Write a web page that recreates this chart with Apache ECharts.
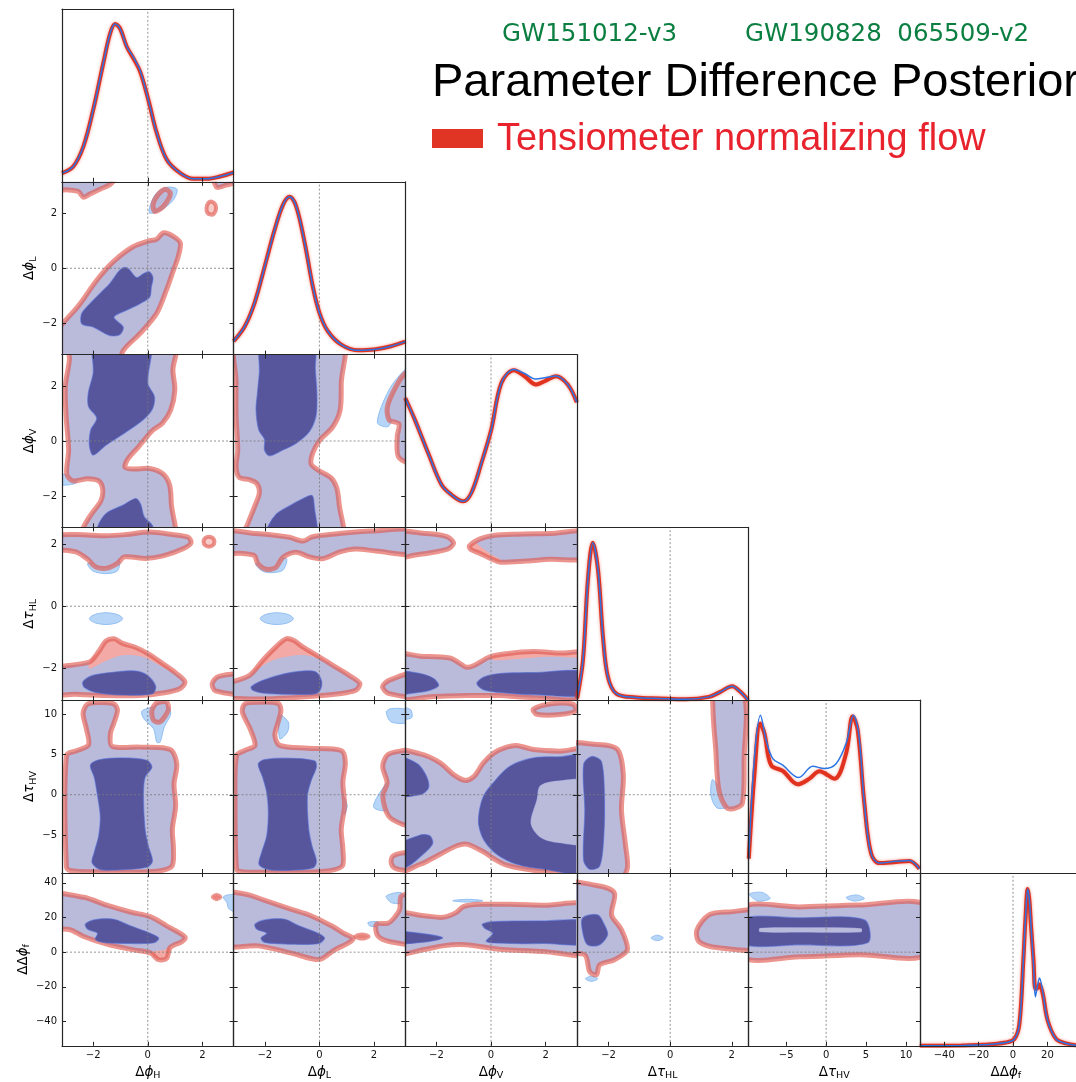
<!DOCTYPE html>
<html>
<head>
<meta charset="utf-8">
<script src="https://cdn.jsdelivr.net/npm/echarts@6/dist/echarts.min.js"></script>
<style>
  html, body { margin: 0; padding: 0; background: #fff; }
  #main { width: 1076px; height: 1082px; }
</style>
</head>
<body>
<div id="main"></div>
<script>
// ---------------- parameters ----------------
const ORDER = ['phiH', 'phiL', 'phiV', 'tauHL', 'tauHV', 'dphif'];
const RANGE_phi = [-3.1416, 3.1416];
const RANGE_tauHL = [-3.03, 2.54];
const RANGE_tauHV = [-9.72, 11.75];
const RANGE_dphif = [-54.1, 45.7];
const TICKS_phi = [-2, 0, 2];
const TICKS_tauHL = [-2, 0, 2];
const TICKS_tauHV = [-5, 0, 5, 10];
const TICKS_dphif = [-40, -20, 0, 20, 40];

// ---------------- 1D marginals (peak-normalised) ----------------
const pdf_phiH_x = [-3.14, -2.73, -2.36, -2.0, -1.63, -1.38, -1.20, -1.02, -0.77, -0.53, -0.28, 0.02, 0.33, 0.70, 1.19, 1.67, 2.17, 2.65, 3.14];
const pdf_phiH_red = [0.055, 0.097, 0.223, 0.456, 0.751, 0.94, 1.0, 0.973, 0.856, 0.783, 0.698, 0.519, 0.308, 0.139, 0.055, 0.019, 0.019, 0.034, 0.059];
const pdf_phiH_blue = [0.055, 0.097, 0.223, 0.456, 0.751, 0.94, 1.0, 0.973, 0.856, 0.79, 0.705, 0.519, 0.308, 0.139, 0.055, 0.019, 0.019, 0.034, 0.059];

const pdf_phiL_x = [-3.14, -2.73, -2.37, -2.0, -1.64, -1.33, -1.09, -0.85, -0.54, -0.24, 0.01, 0.31, 0.80, 1.40, 2.01, 2.62, 3.14];
const pdf_phiL_red = [0.085, 0.18, 0.33, 0.56, 0.79, 0.95, 1.0, 0.94, 0.71, 0.43, 0.26, 0.148, 0.063, 0.027, 0.032, 0.053, 0.082];
const pdf_phiL_blue = [0.085, 0.18, 0.33, 0.56, 0.79, 0.95, 1.0, 0.94, 0.71, 0.43, 0.26, 0.148, 0.063, 0.027, 0.032, 0.053, 0.082];

const pdf_phiV_x = [-3.14, -2.79, -2.30, -1.81, -1.45, -1.02, -0.72, -0.35, 0.01, 0.38, 0.84, 1.23, 1.65, 1.96, 2.38, 2.81, 3.14];
const pdf_phiV_red = [0.82, 0.683, 0.471, 0.27, 0.207, 0.165, 0.218, 0.408, 0.62, 0.915, 0.996, 0.958, 0.905, 0.926, 0.958, 0.905, 0.793];
const pdf_phiV_blue = [0.82, 0.683, 0.471, 0.27, 0.207, 0.165, 0.218, 0.408, 0.62, 0.915, 1.0, 0.975, 0.94, 0.948, 0.96, 0.905, 0.793];

const pdf_tauHL_x = [-3.02, -2.83, -2.67, -2.51, -2.34, -2.18, -2.02, -1.75, -1.11, -0.35, 0.51, 1.26, 1.63, 2.01, 2.28, 2.53];
const pdf_tauHL_red = [0.011, 0.254, 0.761, 0.998, 0.824, 0.40, 0.148, 0.042, 0.017, 0.011, 0.006, 0.021, 0.053, 0.089, 0.053, 0.0];
const pdf_tauHL_blue = [0.011, 0.254, 0.761, 0.998, 0.824, 0.40, 0.148, 0.042, 0.017, 0.011, 0.006, 0.021, 0.053, 0.089, 0.053, 0.0];

const pdf_tauHV_x = [-9.67, -8.96, -8.25, -7.71, -6.88, -5.42, -3.54, -2.08, -0.83, 1.04, 2.5, 3.33, 3.96, 4.79, 5.63, 6.67, 8.75, 10.42, 11.67];
const pdf_tauHV_red = [0.091, 0.63, 0.947, 0.884, 0.683, 0.647, 0.562, 0.598, 0.645, 0.598, 0.757, 0.994, 0.905, 0.44, 0.123, 0.063, 0.070, 0.076, 0.027];
const pdf_tauHV_xb = [-9.67, -8.96, -8.21, -7.5, -6.67, -5.42, -3.42, -1.67, -0.21, 1.25, 2.5, 3.42, 4.08, 4.79, 5.63, 6.67, 8.75, 10.42, 11.67];
const pdf_tauHV_blue = [0.091, 0.736, 1.0, 0.841, 0.725, 0.683, 0.605, 0.676, 0.662, 0.693, 0.82, 1.0, 0.884, 0.44, 0.123, 0.063, 0.074, 0.080, 0.027];

const pdf_dphif_x = [-54.2, -30, -17.7, -4.1, 0.8, 3.7, 6.0, 7.2, 8.55, 9.5, 10.5, 11.9, 13.0, 14.2, 15.4, 17.3, 20.2, 25.1, 30.9, 36.3, 46];
const pdf_dphif_red = [0, 0.002, 0.006, 0.021, 0.043, 0.138, 0.542, 0.797, 0.993, 0.925, 0.755, 0.542, 0.361, 0.365, 0.389, 0.33, 0.159, 0.043, 0.015, 0.004, 0];
const pdf_dphif_blue = [0, 0.002, 0.006, 0.021, 0.043, 0.138, 0.542, 0.797, 0.993, 0.925, 0.755, 0.52, 0.31, 0.38, 0.43, 0.34, 0.159, 0.043, 0.015, 0.004, 0];

// ---------------- 2D contours (data coordinates) ----------------
// outer = 95% region, inner = 68% region; blue/pink = where only one sample covers
// Δϕ_L vs Δϕ_H
const LH_outer = [
  [[-3.6, -2.69], [-2.48, -1.29], [-1.87, -0.44], [-1.27, 0.23], [-0.54, 0.78], [0.07, 1.0], [0.32, 1.05], [0.58, 1.29], [0.92, 1.17], [1.19, 0.92], [1.11, 0.41], [0.92, -0.13], [0.68, -0.80], [0.32, -1.65], [-0.29, -2.38], [-0.9, -3.0], [-1.2, -3.8], [-3.6, -3.8]],
  [[-3.6, 3.8], [-0.9, 3.8], [-1.33, 3.09], [-1.75, 2.87], [-2.12, 2.70], [-2.36, 2.58], [-2.54, 2.79], [-2.97, 2.85], [-3.6, 2.85]],
  [[0.19, 2.30], [0.32, 2.60], [0.62, 2.87], [0.83, 2.72], [0.58, 2.26], [0.26, 2.06]],
  [[2.4, 3.8], [2.51, 2.95], [2.87, 3.02], [3.2, 3.1], [3.6, 3.1], [3.6, 3.8]]
];
const LH_inner = [
  [[-0.90, 0.02], [-0.72, -0.01], [-0.41, -0.34], [-0.15, -0.19], [0.05, -0.13], [0.19, -0.34], [0.13, -0.68], [0.07, -1.05], [-0.29, -1.29], [-0.78, -1.53], [-1.24, -1.78], [-0.90, -2.14], [-1.02, -2.41], [-1.39, -2.45], [-2.0, -2.14], [-2.42, -2.02], [-2.42, -1.65], [-2.12, -1.29], [-1.75, -0.92], [-1.39, -0.56], [-1.08, -0.13]]
];
const LH_blue = [[[0.05, 2.02], [0.26, 2.66], [0.68, 2.94], [1.07, 2.87], [0.92, 2.46], [0.44, 2.09]]];
const LH_rings = [[[2.15, 2.2], [2.22, 2.38], [2.34, 2.42], [2.47, 2.32], [2.5, 2.15], [2.42, 1.98], [2.3, 1.95], [2.18, 2.02]]];

// Δϕ_V vs Δϕ_H
const VH_outer = [
  [[-2.87, 3.8], [1.02, 3.8], [0.92, 2.59], [0.99, 1.86], [0.84, 1.13], [0.54, 0.65], [0.17, 0.38], [-0.34, -0.21], [-0.74, -0.67], [-0.83, -0.96], [-0.50, -1.02], [0.07, -1.0], [0.56, -1.20], [0.80, -1.61], [0.86, -2.27], [0.92, -3.8], [-2.6, -3.8], [-2.32, -3.07], [-2.04, -2.62], [-1.72, -2.18], [-1.65, -1.76], [-1.80, -1.45], [-2.20, -1.37], [-2.75, -1.45], [-2.97, -1.20], [-2.90, -0.33], [-2.99, 0.89], [-3.02, 1.98], [-2.87, 2.96]]
];
const VH_inner = [
  [[-1.95, 3.8], [0.07, 3.8], [0.0, 2.10], [0.24, 1.62], [0.17, 1.16], [-0.17, 0.77], [-0.86, 0.28], [-1.53, -0.15], [-2.0, -0.51], [-2.14, -0.15], [-2.09, 0.40], [-1.87, 0.83], [-2.17, 1.25], [-2.18, 1.74], [-2.0, 2.47]],
  [[-1.95, -3.8], [-1.84, -3.13], [-1.53, -2.64], [-0.92, -2.34], [-0.44, -2.09], [-0.26, -2.30], [-0.13, -2.76], [0.17, -3.07], [0.3, -3.8]]
];
const VH_blue = [[[-3.6, -1.2], [-2.9, -1.25], [-2.6, -1.5], [-2.95, -1.6], [-3.6, -1.55]]];

// Δϕ_V vs Δϕ_L
const VL_outer = [
  [[-2.99, 3.8], [0.82, 3.8], [0.80, 2.10], [0.76, 1.13], [0.48, 0.50], [0.02, 0.04], [-0.25, -0.45], [-0.30, -0.84], [-0.01, -1.08], [0.42, -1.33], [0.63, -1.69], [0.72, -2.27], [0.80, -3.8], [-2.9, -3.8], [-2.62, -3.0], [-2.38, -2.40], [-2.20, -1.89], [-2.29, -1.55], [-2.59, -1.40], [-2.93, -1.33], [-3.05, -0.94], [-2.99, -0.33], [-3.05, 0.89], [-3.05, 2.10]],
  [[3.6, 2.7], [3.13, 2.45], [2.79, 1.96], [2.49, 1.25], [2.55, 0.77], [2.91, 0.62], [2.85, 0.16], [2.91, -0.6], [3.6, -0.8]]
];
const VL_inner = [
  [[-2.10, 3.8], [-0.23, 3.8], [-0.15, 2.59], [-0.09, 1.62], [-0.13, 0.89], [-0.37, 0.34], [-0.86, -0.09], [-1.34, -0.33], [-1.83, -0.54], [-2.01, -0.33], [-2.01, 0.06], [-2.22, 0.40], [-2.32, 1.13], [-2.27, 1.74], [-2.20, 2.47]],
  [[-2.05, -3.8], [-1.89, -3.13], [-1.56, -2.64], [-1.08, -2.35], [-0.61, -2.10], [-0.27, -1.98], [-0.19, -2.34], [-0.15, -3.8]]
];
const VL_blue = [[[3.13, 2.59], [2.55, 1.86], [2.12, 0.67], [2.55, 0.55], [3.13, 2.35]]];

// Δτ_HL vs Δϕ_H
const THL_H_outer = [
  [[-3.6, 2.24], [-2.63, 2.31], [-1.53, 2.27], [-0.80, 2.31], [0.05, 2.39], [0.90, 2.31], [1.48, 2.22], [1.58, 2.04], [1.29, 1.85], [0.56, 1.62], [-0.07, 1.54], [-0.86, 1.59], [-1.11, 1.38], [-1.53, 1.22], [-1.92, 1.27], [-2.20, 1.51], [-2.63, 1.75], [-3.6, 1.89]],
  [[-3.6, -2.06], [-2.14, -1.80], [-1.78, -1.44], [-1.53, -1.12], [-1.23, -1.05], [-0.92, -1.20], [-0.44, -1.33], [0.05, -1.55], [0.54, -1.85], [1.02, -2.15], [1.36, -2.44], [1.17, -2.66], [0.54, -2.80], [-0.32, -2.88], [-1.53, -2.88], [-2.63, -2.84], [-3.6, -2.80]],
  [[2.36, -2.49], [2.60, -2.26], [3.6, -2.23], [3.6, -2.80], [2.48, -2.73]]
];
const THL_H_inner = [
  [[-2.38, -2.44], [-2.02, -2.23], [-1.17, -2.12], [-0.44, -2.09], [-0.01, -2.23], [0.29, -2.58], [0.17, -2.82], [-0.92, -2.86], [-1.90, -2.78], [-2.32, -2.62]]
];
const THL_H_blue = [
  [[-2.20, 1.38], [-2.02, 1.14], [-1.53, 1.05], [-1.11, 1.14], [-1.05, 1.48], [-1.53, 1.38]],
  [[-2.14, -0.40], [-1.95, -0.27], [-1.53, -0.21], [-1.11, -0.27], [-0.92, -0.40], [-1.11, -0.53], [-1.53, -0.59], [-1.95, -0.53]]
];
const THL_H_pink = [
  [[-2.14, -1.80], [-1.78, -1.44], [-1.53, -1.12], [-1.23, -1.05], [-0.92, -1.20], [-0.44, -1.33], [0.05, -1.55], [0.54, -1.85], [1.02, -2.15], [0.90, -2.12], [0.54, -1.96], [-0.19, -1.63], [-0.92, -1.58], [-1.53, -1.76], [-2.14, -2.01]]
];
const THL_H_rings = [[[2.04, 2.08], [2.1, 2.2], [2.24, 2.24], [2.38, 2.2], [2.44, 2.08], [2.38, 1.96], [2.24, 1.92], [2.1, 1.96]]];

// Δτ_HL vs Δϕ_L
const THL_L_outer = [
  [[-3.6, 2.40], [-2.32, 2.34], [-1.10, 2.22], [-0.61, 2.10], [-0.25, 2.24], [0.72, 2.34], [1.94, 2.42], [3.6, 2.43], [3.6, 1.70], [2.06, 1.78], [1.33, 1.84], [0.72, 1.74], [0.12, 1.53], [-0.37, 1.59], [-0.86, 1.74], [-1.34, 1.57], [-1.59, 1.25], [-1.95, 1.19], [-2.26, 1.38], [-2.38, 1.63], [-2.80, 1.70], [-3.6, 1.75]],
  [[-3.6, -2.6], [-2.56, -2.23], [-2.07, -1.74], [-1.59, -1.31], [-1.22, -1.05], [-0.95, -1.10], [-0.61, -1.31], [-0.01, -1.63], [0.48, -1.90], [1.09, -2.23], [1.48, -2.49], [1.33, -2.71], [0.72, -2.82], [-0.49, -2.92], [-1.71, -2.98], [-2.80, -2.98], [-3.6, -2.92]],
  [[2.31, -2.60], [2.55, -2.39], [3.6, -2.15], [3.6, -2.87], [2.55, -2.82]]
];
const THL_L_inner = [
  [[-2.50, -2.60], [-2.07, -2.39], [-1.34, -2.19], [-0.61, -2.09], [-0.13, -2.12], [0.08, -2.41], [0.05, -2.66], [-0.13, -2.82], [-1.10, -2.84], [-2.07, -2.80], [-2.44, -2.71]]
];
const THL_L_blue = [
  [[-2.32, 1.38], [-2.14, 1.16], [-1.83, 1.08], [-1.34, 1.16], [-1.22, 1.54]],
  [[-2.17, -0.40], [-1.98, -0.27], [-1.56, -0.21], [-1.14, -0.27], [-0.95, -0.40], [-1.14, -0.53], [-1.56, -0.59], [-1.98, -0.53]]
];
const THL_L_pink = [
  [[-2.56, -2.23], [-2.07, -1.74], [-1.59, -1.31], [-1.22, -1.05], [-0.95, -1.10], [-0.61, -1.31], [-0.01, -1.63], [0.48, -1.90], [1.09, -2.23], [0.72, -2.01], [0.12, -1.74], [-0.49, -1.58], [-1.10, -1.61], [-1.71, -1.74], [-2.32, -2.06]]
];

// Δτ_HL vs Δϕ_V
const THL_V_outer = [
  [[-3.6, 2.37], [-2.35, 2.34], [-1.62, 2.24], [-1.37, 2.04], [-1.56, 1.85], [-2.10, 1.74], [-2.71, 1.66], [-3.6, 1.57]],
  [[-0.79, 1.94], [-0.40, 2.17], [0.09, 2.28], [0.94, 2.32], [2.15, 2.34], [3.6, 2.38], [3.6, 1.57], [2.15, 1.51], [1.30, 1.46], [0.33, 1.42], [0.02, 1.52], [-0.40, 1.70], [-0.74, 1.83]],
  [[-3.6, -1.57], [-2.59, -1.61], [-1.50, -1.67], [-1.13, -1.85], [-0.89, -1.97], [-0.62, -1.91], [-0.04, -1.63], [0.57, -1.53], [1.55, -1.46], [2.52, -1.51], [3.6, -1.55], [3.6, -2.90], [1.55, -2.95], [0.33, -2.88], [-0.89, -2.88], [-2.10, -2.91], [-3.6, -2.94]]
];
const THL_V_inner = [
  [[-3.6, -2.12], [-2.59, -2.17], [-2.10, -2.33], [-1.92, -2.56], [-2.23, -2.71], [-2.83, -2.80], [-3.6, -2.82]],
  [[-0.52, -2.49], [-0.26, -2.28], [0.33, -2.17], [1.55, -2.14], [3.6, -2.13], [3.6, -2.84], [1.55, -2.85], [0.33, -2.78], [-0.28, -2.69]]
];
const THL_V_pink = [
  [[-0.79, 1.94], [-0.74, 1.83], [-0.40, 1.70], [0.02, 1.52], [0.33, 1.42], [0.33, 1.51], [-0.04, 1.70], [-0.46, 1.97], [-0.58, 2.05]],
  [[-0.04, -1.63], [0.57, -1.53], [1.55, -1.46], [2.52, -1.51], [3.6, -1.55], [3.6, -1.66], [2.15, -1.63], [0.94, -1.70], [0.09, -1.74]]
];

// Δτ_HV vs Δϕ_H
const THV_H_outer = [
  [[-2.98, -9.0], [-2.98, 4.88], [-2.59, 5.5], [-2.17, 6.21], [-2.25, 8.21], [-2.37, 10.08], [-2.23, 11.2], [-1.86, 11.45], [-1.25, 11.3], [-1.11, 10.5], [-1.25, 8.83], [-1.37, 7.58], [-1.31, 6.04], [-0.28, 5.92], [0.82, 5.63], [1.06, 3.83], [0.96, 1.33], [1.02, -1.38], [0.90, -4.29], [0.94, -6.79], [0.88, -8.88], [0.33, -9.5], [-0.89, -9.58], [-2.10, -9.58], [-2.8, -9.45]],
  [[0.15, 10.5], [0.33, 11.4], [0.69, 11.5], [0.75, 10.5], [0.45, 9.04], [0.21, 9.25]]
];
const THV_H_inner = [
  [[-2.10, 3.71], [-1.74, 4.38], [-0.89, 4.58], [-0.04, 4.29], [0.15, 3.42], [-0.10, 2.17], [-0.16, -0.13], [-0.10, -4.29], [0.02, -6.38], [0.17, -8.25], [-0.04, -9.0], [-0.89, -9.29], [-1.74, -9.29], [-2.04, -8.46], [-1.96, -7.13], [-1.80, -5.13], [-1.74, -2.63], [-1.86, 0.29], [-1.96, 2.17]]
];
const THV_H_blue = [[[-0.22, 10.38], [0.21, 10.92], [0.69, 11.13], [0.84, 10.08], [0.60, 8.42], [0.45, 6.54], [0.33, 6.54], [0.21, 8.21], [-0.13, 9.38]]];

// Δτ_HV vs Δϕ_L
const THV_L_outer = [
  [[-3.03, -9.3], [-3.09, -0.13], [-3.03, 4.88], [-2.73, 5.5], [-2.36, 6.13], [-2.54, 8.21], [-2.82, 10.29], [-2.73, 11.3], [-2.24, 11.5], [-1.51, 11.35], [-1.41, 10.5], [-1.51, 9.04], [-1.63, 7.38], [-1.45, 6.13], [-0.41, 5.79], [0.80, 5.5], [0.95, 4.04], [0.86, 1.54], [0.92, -1.38], [0.80, -4.29], [0.86, -6.79], [0.83, -8.88], [0.19, -9.5], [-1.02, -9.63], [-2.24, -9.63], [-2.85, -9.55]],
  [[3.6, 5.71], [3.09, 5.5], [2.51, 5.0], [2.32, 3.54], [2.48, 1.46], [2.32, -0.13], [2.53, -2.63], [3.05, -3.67], [3.6, -3.88]],
  [[3.6, -7.21], [3.09, -7.21], [2.69, -7.63], [2.63, -8.46], [2.75, -9.08], [3.09, -9.38], [3.6, -9.38]]
];
const THV_L_inner = [
  [[-2.24, 3.83], [-2.0, 4.38], [-1.02, 4.54], [-0.17, 4.21], [-0.11, 3.42], [-0.29, 1.88], [-0.44, -0.13], [-0.39, -4.29], [-0.27, -6.38], [-0.11, -8.25], [-0.23, -9.08], [-1.02, -9.38], [-1.87, -9.29], [-2.21, -8.67], [-2.12, -7.21], [-1.93, -5.13], [-1.87, -2.21], [-1.93, 0.29], [-2.09, 2.29]]
];
const THV_L_blue = [
  [[-1.45, 9.88], [-1.14, 9.04], [-1.17, 7.79], [-1.45, 6.96]],
  [[0.86, -0.13], [1.02, -1.38], [0.90, -2.42]],
  [[2.63, 1.96], [2.14, -0.13], [1.99, -1.58], [2.45, -2.0], [2.63, -1.38]],
  [[2.45, 10.29], [2.63, 10.71], [3.24, 10.5], [3.30, 9.04], [2.63, 9.04]]
];

// Δτ_HV vs Δϕ_V
const THV_V_outer = [
  [[-3.6, 5.29], [-2.59, 5.08], [-1.86, 3.96], [-1.37, 2.5], [-0.95, 1.79], [-0.62, 2.29], [-0.28, 3.96], [0.11, 5.21], [0.57, 5.92], [0.94, 6.13], [1.55, 5.63], [2.52, 5.42], [3.6, 5.42], [3.6, -9.88], [2.52, -9.63], [1.55, -9.38], [0.57, -8.75], [0.09, -7.92], [-0.28, -7.08], [-0.89, -6.13], [-1.25, -6.33], [-1.86, -7.38], [-2.59, -8.63], [-3.6, -9.58]],
  [[1.55, 10.63], [2.15, 11.29], [3.0, 11.25], [3.10, 10.42], [2.52, 9.96], [1.67, 10.0]]
];
const THV_V_inner = [
  [[-3.6, 4.79], [-2.71, 3.88], [-2.35, 2.21], [-2.29, 0.83], [-2.59, 0], [-3.6, 0]],
  [[-3.6, -6.67], [-2.59, -5.0], [-2.23, -5.13], [-2.14, -6.13], [-2.59, -7.71], [-3.08, -8.96], [-3.6, -9.17]],
  [[-0.43, -2.08], [-0.28, -0.21], [0.02, 1.25], [0.69, 3.54], [1.55, 4.58], [2.52, 4.71], [3.6, 4.71], [3.6, -9.46], [1.91, -9.21], [0.94, -8.63], [0.21, -7.38], [-0.26, -5.63], [-0.45, -3.75]]
];
const THV_V_holes = [[[3.6, 1.54], [2.40, 1.75], [1.79, 1.13], [1.67, -0.63], [1.45, -3.54], [1.79, -5.29], [2.40, -5.96], [3.6, -5.88]]];
const THV_V_blue = [[[-3.6, 10.9], [-2.96, 10.63], [-2.90, 9.58], [-3.20, 9.38], [-3.6, 9.5]]];

// Δτ_HV vs Δτ_HL
const THV_T_outer = [
  [[-3.5, 5.88], [-2.35, 6.25], [-1.71, 5.63], [-1.52, 2.5], [-1.58, -1.88], [-1.45, -6.25], [-1.39, -9.13], [-1.65, -10.6], [-3.5, -10.6]],
  [[1.45, 12.5], [2.38, 12.5], [2.40, 4.38], [2.35, -1.0], [2.1, -1.7], [1.84, -1.63], [1.58, 0.63], [1.48, 5.63], [1.39, 10.6]]
];
const THV_T_inner = [[[-2.81, 3.75], [-2.55, 4.75], [-2.23, 4.13], [-2.13, -0.63], [-2.16, -5.63], [-2.29, -8.88], [-2.61, -9.25], [-2.81, -8.13], [-2.77, -1.88]]];
const THV_T_blue = [[[1.32, 0], [1.52, -1.63], [1.90, -1.38], [1.39, 1.88]]];

// ΔΔϕ_f vs Δϕ_H
const F_H_outer = [
  [[-3.6, 32.8], [-2.35, 31.7], [-1.50, 27.1], [-0.64, 23.2], [0.09, 20.5], [0.69, 15.2], [1.18, 10.9], [1.37, 8.4], [1.25, 6.1], [0.82, 2.7], [0.69, -3.6], [0.39, -4.4], [0.11, -0.6], [-0.52, 1.3], [-1.50, 4.6], [-2.35, 9.0], [-2.83, 12.9], [-3.6, 14.8]]
];
const F_H_inner = [[[-2.29, 16.1], [-1.98, 18.6], [-1.25, 19.0], [-0.64, 15.2], [0.09, 10.9], [0.40, 8.1], [0.23, 5.4], [-0.64, 5.0], [-1.62, 5.6], [-1.92, 7.5], [-1.84, 10.9], [-2.20, 13.2]]];
const F_H_pink = [[[0.82, 2.7], [0.69, -3.6], [0.39, -4.4], [0.11, -0.6], [0.3, 0.8], [0.6, 1.3]]];
const F_H_blue = [[[2.76, 31.8], [3.0, 33.2], [3.6, 33], [3.6, 21.3], [2.98, 24.9], [2.89, 28.8]]];
const F_H_rings = [[[2.38, 31.8], [2.52, 33.0], [2.66, 31.8], [2.52, 30.6]]];

// ΔΔϕ_f vs Δϕ_L
const F_L_outer = [
  [[-3.6, 33.4], [-2.73, 33.6], [-2.0, 29.9], [-1.02, 24.7], [-0.29, 20.9], [0.44, 15.2], [0.92, 10.6], [1.24, 7.9], [1.05, 5.2], [0.56, 1.3], [0.07, -4.0], [-0.23, -4.0], [-1.02, -0.6], [-2.24, 3.6], [-3.6, 4.6]],
  [[2.09, 16.1], [2.51, 16.7], [2.75, 20.0], [2.94, 24.7], [3.0, 32.4], [3.6, 32.4], [3.6, 5.6], [2.63, 5.9], [2.14, 9.4]]
];
const F_L_inner = [[[-2.36, 16.1], [-2.0, 18.6], [-1.27, 19.0], [-0.75, 15.2], [-0.05, 10.9], [0.19, 8.1], [-0.02, 5.0], [-1.02, 4.6], [-2.0, 5.6], [-2.14, 8.1], [-1.93, 10.9], [-2.29, 13.2]]];
const F_L_blue = [
  [[1.78, 17.1], [2.14, 17.5], [2.21, 14.8], [1.84, 15.2]],
  [[2.45, 32.4], [3.0, 34.3], [3.05, 28.6], [2.63, 28.6]]
];
const F_L_rings = [[[1.32, 9.0], [1.56, 10.2], [1.8, 9.0], [1.56, 7.8]]];

// ΔΔϕ_f vs Δϕ_V
const F_V_outer = [
  [[-3.61, 21.9], [-2.38, 20.9], [-1.77, 20.1], [-1.28, 22.8], [-1.01, 26.3], [-0.42, 27.6], [0.69, 27.6], [1.91, 27.1], [3.75, 26.7], [3.75, -0.6], [1.91, 0.4], [0.69, 1.2], [0.07, 2.1], [-0.54, 3.6], [-1.15, 4.4], [-1.77, 3.6], [-2.38, 1.7], [-3.61, -0.6]]
];
const F_V_inner = [
  [[-3.61, 11.7], [-2.38, 10.4], [-1.77, 8.2], [-2.38, 5.9], [-3.61, 5.2]],
  [[-0.32, 16.1], [0.07, 17.6], [1.91, 18.0], [3.75, 17.6], [3.75, 5.2], [1.91, 5.0], [0.69, 5.0], [-0.17, 6.1], [0.07, 10.9], [-0.23, 13.8]]
];
const F_V_blue = [[[-1.40, 29.7], [-0.85, 30.5], [-0.30, 29.7], [-0.85, 28.9]]];

// ΔΔϕ_f vs Δτ_HL
const F_T_outer = [
  [[-3.5, 38.8], [-2.29, 38.2], [-1.81, 34.1], [-1.90, 21.5], [-1.58, 12.9], [-1.39, 1.3], [-1.81, -4.4], [-2.29, -7.4], [-2.39, -13.0], [-2.61, -11.3], [-2.77, -1.6], [-3.5, 1.3]],
  [[0.87, 12.9], [1.26, 21.5], [1.90, 23.2], [3.0, 23.2], [3.0, 2.5], [1.58, 2.5], [0.94, 6.0]]
];
const F_T_inner = [[[-2.84, 19.8], [-2.35, 21.5], [-2.13, 15.7], [-2.03, 10.0], [-2.29, 4.2], [-2.68, 4.2], [-2.84, 11.7]]];
const F_T_blue = [
  [[-0.62, 8.2], [-0.42, 9.8], [-0.22, 8.2], [-0.42, 6.6]],
  [[-2.75, -15.4], [-2.55, -13.9], [-2.35, -15.4], [-2.55, -16.9]]
];

// ΔΔϕ_f vs Δτ_HV
const F_TV_outer = [[[-10.5, 25.6], [-3.3, 26.1], [4.2, 27.2], [12.5, 27.2], [12.5, -1.5], [4.2, -1.5], [-3.3, -2.7], [-10.5, -2.7]]];
const F_TV_inner = [[[-10.5, 19.2], [-3.3, 19.8], [4.8, 18.6], [5.2, 5.4], [-3.3, 4.2], [-10.5, 4.8]]];
const F_TV_holes = [[[-8.3, 14.0], [-3, 14.3], [4.4, 13.8], [4.4, 11.5], [-3, 11.3], [-8.3, 11.6]]];
const F_TV_blue = [
  [[-9.6, 33.5], [-8.0, 34.5], [-7.0, 31.0], [-8.5, 29.5]],
  [[2.5, 31.5], [3.8, 33.0], [4.8, 31.0], [3.5, 29.5]]
];

// ---------------- assembly ----------------
const AXES = {
  phiH:  { range: RANGE_phi,   ticks: TICKS_phi,   pre: 'Δ',  sym: 'ϕ', sub: 'H' },
  phiL:  { range: RANGE_phi,   ticks: TICKS_phi,   pre: 'Δ',  sym: 'ϕ', sub: 'L' },
  phiV:  { range: RANGE_phi,   ticks: TICKS_phi,   pre: 'Δ',  sym: 'ϕ', sub: 'V' },
  tauHL: { range: RANGE_tauHL, ticks: TICKS_tauHL, pre: 'Δ',  sym: 'τ', sub: 'HL' },
  tauHV: { range: RANGE_tauHV, ticks: TICKS_tauHV, pre: 'Δ',  sym: 'τ', sub: 'HV' },
  dphif: { range: RANGE_dphif, ticks: TICKS_dphif, pre: 'ΔΔ', sym: 'ϕ', sub: 'f' }
};
const PDFS = {
  phiH:  { xr: pdf_phiH_x,  red: pdf_phiH_red,  xb: pdf_phiH_x,   blue: pdf_phiH_blue },
  phiL:  { xr: pdf_phiL_x,  red: pdf_phiL_red,  xb: pdf_phiL_x,   blue: pdf_phiL_blue },
  phiV:  { xr: pdf_phiV_x,  red: pdf_phiV_red,  xb: pdf_phiV_x,   blue: pdf_phiV_blue },
  tauHL: { xr: pdf_tauHL_x, red: pdf_tauHL_red, xb: pdf_tauHL_x,  blue: pdf_tauHL_blue },
  tauHV: { xr: pdf_tauHV_x, red: pdf_tauHV_red, xb: pdf_tauHV_xb, blue: pdf_tauHV_blue },
  dphif: { xr: pdf_dphif_x, red: pdf_dphif_red, xb: pdf_dphif_x,  blue: pdf_dphif_blue }
};
const PANELS = {
  '1,0': { outer: LH_outer, inner: LH_inner, blue: LH_blue, rings: LH_rings },
  '2,0': { outer: VH_outer, inner: VH_inner, blue: VH_blue },
  '2,1': { outer: VL_outer, inner: VL_inner, blue: VL_blue },
  '3,0': { outer: THL_H_outer, inner: THL_H_inner, blue: THL_H_blue, pink: THL_H_pink, rings: THL_H_rings },
  '3,1': { outer: THL_L_outer, inner: THL_L_inner, blue: THL_L_blue, pink: THL_L_pink },
  '3,2': { outer: THL_V_outer, inner: THL_V_inner, pink: THL_V_pink },
  '4,0': { outer: THV_H_outer, inner: THV_H_inner, blue: THV_H_blue },
  '4,1': { outer: THV_L_outer, inner: THV_L_inner, blue: THV_L_blue },
  '4,2': { outer: THV_V_outer, inner: THV_V_inner, blue: THV_V_blue, holes: THV_V_holes },
  '4,3': { outer: THV_T_outer, inner: THV_T_inner, blue: THV_T_blue },
  '5,0': { outer: F_H_outer, inner: F_H_inner, blue: F_H_blue, pink: F_H_pink, rings: F_H_rings },
  '5,1': { outer: F_L_outer, inner: F_L_inner, blue: F_L_blue, rings: F_L_rings },
  '5,2': { outer: F_V_outer, inner: F_V_inner, blue: F_V_blue },
  '5,3': { outer: F_T_outer, inner: F_T_inner, blue: F_T_blue },
  '5,4': { outer: F_TV_outer, inner: F_TV_inner, blue: F_TV_blue, holes: F_TV_holes }
};

const LAV = '#babadb';
const DARK = '#57559c';
const STYLES = {
  blue:  { fill: '#b6d5f7', stroke: '#92bff2', lineWidth: 1 },
  fill:  { fill: LAV, stroke: null },
  pink:  { fill: '#f3aaa6', stroke: null },
  edge:  { fill: 'none', stroke: 'rgba(224,84,74,0.62)', lineWidth: 5 },
  inner: { fill: DARK, stroke: 'rgba(80,110,215,0.55)', lineWidth: 1.2 },
  hole:  { fill: LAV, stroke: 'rgba(80,100,190,0.35)', lineWidth: 0.8 },
  ring:  { fill: '#f6cbc8', stroke: 'rgba(224,84,74,0.62)', lineWidth: 4 }
};

const LEFT = 62, TOP = 9, CW = 171.6, RH = 172.8;
const FONT = '"DejaVu Sans", sans-serif';

function fmt(v) { return v < 0 ? '\u2212' + Math.abs(v) : String(v); }
function richName(a) { return '{a|' + a.pre + '}{b|' + a.sym + '}{c|' + a.sub + '}'; }
const NAME_RICH = {
  a: { fontSize: 13.5, fontFamily: FONT, color: '#000' },
  b: { fontSize: 13.5, fontFamily: FONT, fontStyle: 'italic', color: '#000' },
  c: { fontSize: 9.5, fontFamily: FONT, color: '#000', padding: [7, 0, 0, 0] }
};

const option = {
  animation: false,
  backgroundColor: '#ffffff',
  grid: [], xAxis: [], yAxis: [], series: [],
  graphic: [
    { type: 'text', x: 502, y: 35, style: { text: 'GW151012-v3', font: '24.5px "DejaVu Sans"', fill: '#0b7f41', verticalAlign: 'middle' } },
    { type: 'text', x: 745, y: 35, style: { text: 'GW190828  065509-v2', font: '24.5px "DejaVu Sans"', fill: '#0b7f41', verticalAlign: 'middle' } },
    { type: 'text', x: 432, y: 83, style: { text: 'Parameter Difference Posterior', font: '47px "Liberation Sans"', fill: '#000', verticalAlign: 'middle' } },
    { type: 'rect', shape: { x: 432, y: 129, width: 51, height: 19 }, style: { fill: '#e03424' } },
    { type: 'text', x: 497, y: 140, style: { text: 'Tensiometer normalizing flow', font: '37.9px "Liberation Sans"', fill: '#e8232d', verticalAlign: 'middle' } }
  ]
};

function tickCfg(show, ticks) {
  return { show: show, inside: true, length: 4, customValues: ticks, lineStyle: { color: '#222', width: 1 } };
}

function addAxes(r, c) {
  const gi = option.grid.length;
  option.grid.push({
    left: LEFT + c * CW, top: TOP + r * RH, width: CW, height: RH,
    show: false, containLabel: false, outerBoundsMode: 'none'
  });
  const xa = AXES[ORDER[c]];
  const diag = r === c;
  const ya = diag ? null : AXES[ORDER[r]];
  const line = { show: true, onZero: false, lineStyle: { color: '#262626', width: 1.2 } };
  const labelStyle = { fontSize: 10, fontFamily: FONT, color: '#111', formatter: fmt };

  const xi = option.xAxis.length;
  option.xAxis.push({
    gridIndex: gi, type: 'value', position: 'bottom', z: 6,
    min: xa.range[0], max: xa.range[1],
    axisLine: line, splitLine: { show: false },
    axisTick: tickCfg(true, xa.ticks),
    axisLabel: Object.assign({ show: r === 5, customValues: xa.ticks, margin: 5 }, labelStyle),
    name: r === 5 ? richName(xa) : '', nameLocation: 'middle', nameGap: 18,
    nameTextStyle: { rich: NAME_RICH }
  });
  option.xAxis.push({
    gridIndex: gi, type: 'value', position: 'top', z: 6,
    min: xa.range[0], max: xa.range[1],
    axisLine: line, splitLine: { show: false },
    axisTick: tickCfg(!diag, xa.ticks),
    axisLabel: { show: false, customValues: xa.ticks }
  });

  const yi = option.yAxis.length;
  const yr = diag ? [0, 1.095] : ya.range;
  const yt = diag ? [] : ya.ticks;
  option.yAxis.push({
    gridIndex: gi, type: 'value', position: 'left', z: 6,
    min: yr[0], max: yr[1],
    axisLine: line, splitLine: { show: false },
    axisTick: tickCfg(!diag, yt),
    axisLabel: Object.assign({ show: !diag && c === 0, customValues: yt, margin: 5 }, labelStyle),
    name: (!diag && c === 0) ? richName(ya) : '', nameLocation: 'middle',
    nameGap: r === 5 ? 25 : 23, nameRotate: 90,
    nameTextStyle: { rich: NAME_RICH }
  });
  option.yAxis.push({
    gridIndex: gi, type: 'value', position: 'right', z: 6,
    min: yr[0], max: yr[1],
    axisLine: line, splitLine: { show: false },
    axisTick: tickCfg(!diag, yt),
    axisLabel: { show: false, customValues: yt }
  });
  return { xi, yi, xa, yr };
}

function zeroLines(ax, withHorizontal, z) {
  const ls = { color: '#7a7a7a', width: 0.8, type: [2, 2] };
  option.series.push({
    type: 'line', xAxisIndex: ax.xi, yAxisIndex: ax.yi, z: z, silent: true, symbol: 'none',
    lineStyle: ls, data: [[0, ax.yr[0]], [0, ax.yr[1]]]
  });
  if (withHorizontal) {
    option.series.push({
      type: 'line', xAxisIndex: ax.xi, yAxisIndex: ax.yi, z: z, silent: true, symbol: 'none',
      lineStyle: ls, data: [[ax.xa.range[0], 0], [ax.xa.range[1], 0]]
    });
  }
}

function panelItems(p) {
  const items = [];
  (p.blue || []).forEach(poly => items.push({ poly, kind: 'blue' }));
  (p.outer || []).forEach(poly => items.push({ poly, kind: 'fill' }));
  (p.pink || []).forEach(poly => items.push({ poly, kind: 'pink' }));
  (p.outer || []).forEach(poly => items.push({ poly, kind: 'edge' }));
  (p.inner || []).forEach(poly => items.push({ poly, kind: 'inner' }));
  (p.holes || []).forEach(poly => items.push({ poly, kind: 'hole' }));
  (p.rings || []).forEach(poly => items.push({ poly, kind: 'ring' }));
  return items;
}

for (let r = 0; r < 6; r++) {
  for (let c = 0; c <= r; c++) {
    const ax = addAxes(r, c);
    if (r === c) {
      const pd = PDFS[ORDER[c]];
      zeroLines(ax, false, 2);
      option.series.push({
        type: 'line', xAxisIndex: ax.xi, yAxisIndex: ax.yi, z: 3, silent: true,
        symbol: 'none', smooth: 0.35, clip: true,
        lineStyle: { color: '#e0321f', width: 4, shadowBlur: 3, shadowColor: 'rgba(228,60,40,0.55)' },
        data: pd.xr.map((x, i) => [x, pd.red[i]])
      });
      option.series.push({
        type: 'line', xAxisIndex: ax.xi, yAxisIndex: ax.yi, z: 4, silent: true,
        symbol: 'none', smooth: 0.35, clip: true,
        lineStyle: { color: '#2a74e6', width: 1.5 },
        data: pd.xb.map((x, i) => [x, pd.blue[i]])
      });
    } else {
      const items = panelItems(PANELS[r + ',' + c]);
      option.series.push({
        type: 'custom', xAxisIndex: ax.xi, yAxisIndex: ax.yi, z: 2, silent: true, clip: true,
        data: items.map(it => it.poly[0]),
        renderItem: function (params, api) {
          const it = items[params.dataIndex];
          const pts = it.poly.map(p => api.coord(p));
          return {
            type: 'polygon',
            shape: { points: pts, smooth: 0.3 },
            style: Object.assign({}, STYLES[it.kind])
          };
        }
      });
      zeroLines(ax, true, 3);
    }
  }
}

const chart = echarts.init(document.getElementById('main'), null, { renderer: 'canvas' });
chart.setOption(option);
</script>
</body>
</html>
